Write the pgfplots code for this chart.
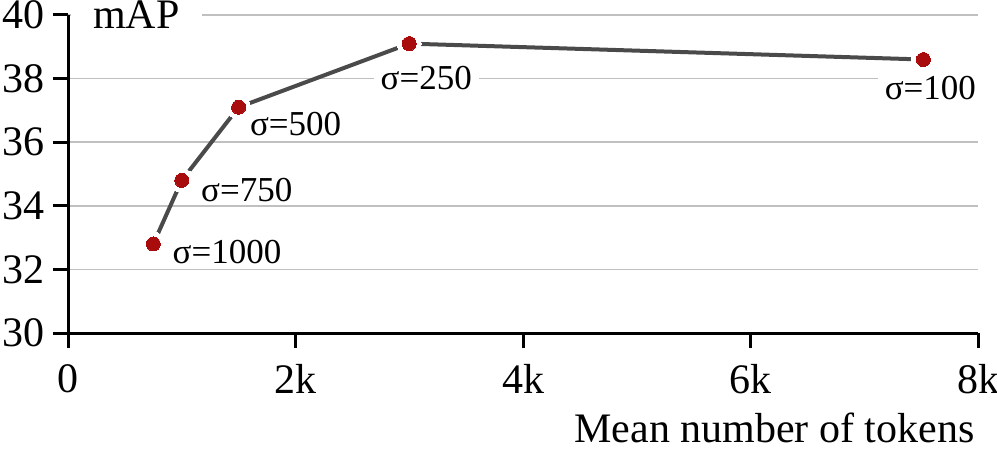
\documentclass[border=0pt]{standalone}
\usepackage{fontspec}
\setmainfont{Liberation Serif}
\usepackage{pgfplots}
\pgfplotsset{compat=1.18}
\usepackage{pgfplotstable}
\definecolor{ptred}{HTML}{A80C0C}
\definecolor{lgray}{HTML}{4A4A4A}
\definecolor{ggray}{HTML}{C0C0C0}
\pgfplotstableread{
x y
750 32.8
1000 34.8
1500 37.1
3000 39.1
7520 38.6
}\datatable
\begin{document}
\begin{tikzpicture}[font=\fontsize{21bp}{24bp}\selectfont,
  sig/.style={font=\fontsize{17.5bp}{20bp}\selectfont}]
\begin{axis}[name=ax, at={(0,0)}, anchor=south west,
  scale only axis, width=455bp, height=159bp,
  xmin=0, xmax=8000, ymin=30, ymax=40,
  axis x line*=bottom, axis y line*=left,
  axis line style={line width=1.5bp, black, -},
  tick align=outside, major tick length=7.5bp,
  tick style={line width=1.5bp, black},
  xtick={0,2000,4000,6000,8000}, xticklabels={0,2k,4k,6k,8k},
  scaled x ticks=false,
  ytick={30,32,34,36,38,40},
  /pgf/number format/assume math mode=true,
  yticklabel style={inner sep=0, anchor=east, xshift=-4bp},
  xticklabel style={inner sep=0, anchor=north, yshift=-8bp},
  ymajorgrids, grid style={ggray, line width=0.75bp},
  xlabel={Mean number of tokens},
  xlabel style={at={(rel axis cs:1,0)}, anchor=base east, yshift=-54.5bp, xshift=-1.5bp, inner sep=0},
  clip=false,
]
\addplot[lgray, line width=2bp] table[x=x,y=y] {\datatable};
\addplot[white, only marks, mark=*, mark size=6bp, mark options={fill=white, draw=white, line width=0pt}] table[x=x,y=y] {\datatable};
\addplot[ptred, only marks, mark=*, mark size=3.5bp, mark options={fill=ptred, draw=ptred, line width=0pt}] table[x=x,y=y] {\datatable};
\node[sig, anchor=west, inner sep=0, xshift=9.5bp, yshift=-4bp] at (axis cs:750,32.8) {σ=1000};
\node[sig, anchor=west, inner sep=0, xshift=9.5bp, yshift=-5bp] at (axis cs:1000,34.8) {σ=750};
\node[sig, anchor=west, inner sep=0, xshift=5.5bp, yshift=-8.5bp] at (axis cs:1500,37.1) {σ=500};
\node[sig, fill=white, inner xsep=3.5bp, inner ysep=1bp, xshift=8.5bp, yshift=-17bp] at (axis cs:3000,39.1) {σ=250};
\node[sig, fill=white, inner xsep=3.5bp, inner ysep=1bp, xshift=3.5bp, yshift=-14.5bp] at (axis cs:7520,38.6) {σ=100};
\node[fill=white, anchor=base west, inner xsep=11bp, inner ysep=2bp, xshift=-11bp] at (axis cs:219,39.56) {mAP};
\end{axis}
\pgfresetboundingbox
\path[use as bounding box] ([shift={(-34bp,-63.5bp)}]ax.south west) rectangle ([shift={(464.5bp,166.5bp)}]ax.south west);
\end{tikzpicture}
\end{document}
